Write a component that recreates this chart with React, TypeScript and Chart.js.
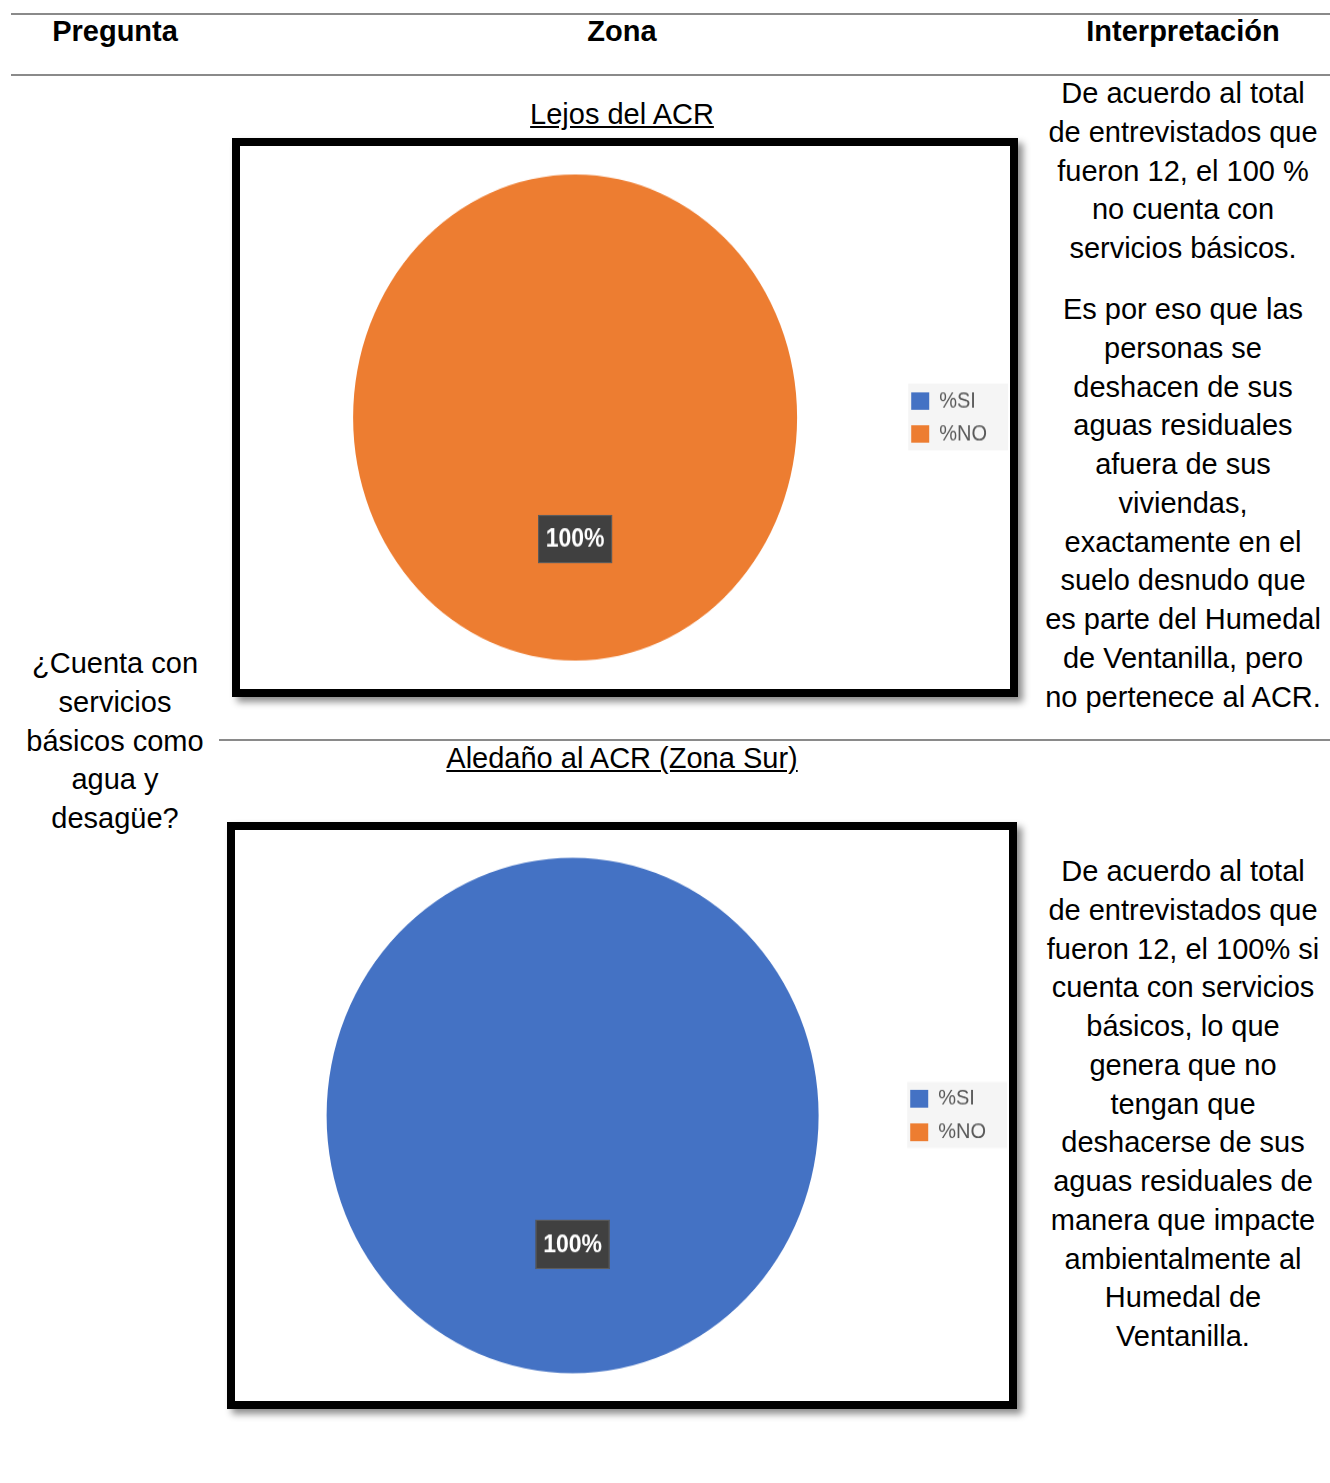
import React, { useEffect, useRef } from "react";
import { Chart, registerables } from "chart.js";

Chart.register(...registerables);

// ---- data ----
const categories = ["%SI", "%NO"];
const lejosValues = [0, 100];
const aledanoValues = [100, 0];
const sliceColors = ["#4472C4", "#ED7D31"];

const headerLabels = ["Pregunta", "Zona", "Interpretación"];
const questionLines = ["¿Cuenta con", "servicios", "básicos como", "agua y", "desagüe?"];
const lejosTitle = "Lejos del ACR";
const aledanoTitle = "Aledaño al ACR (Zona Sur)";
const lejosNoteA = [
  "De acuerdo al total",
  "de entrevistados que",
  "fueron 12, el 100 %",
  "no cuenta con",
  "servicios básicos.",
];
const lejosNoteB = [
  "Es por eso que las",
  "personas se",
  "deshacen de sus",
  "aguas residuales",
  "afuera de sus",
  "viviendas,",
  "exactamente en el",
  "suelo desnudo que",
  "es parte del Humedal",
  "de Ventanilla, pero",
  "no pertenece al ACR.",
];
const aledanoNote = [
  "De acuerdo al total",
  "de entrevistados que",
  "fueron 12, el 100% si",
  "cuenta con servicios",
  "básicos, lo que",
  "genera que no",
  "tengan que",
  "deshacerse de sus",
  "aguas residuales de",
  "manera que impacte",
  "ambientalmente al",
  "Humedal de",
  "Ventanilla.",
];

const FONT = "'Liberation Sans', Arial, sans-serif";
const LINE_H = 38.75;

// light grey panel behind the legend entries
const legendBackdrop = {
  id: "legendBackdrop",
  beforeDraw(chart: any) {
    const lg = chart.legend;
    if (!lg || !lg.legendHitBoxes || !lg.legendHitBoxes.length) return;
    const hb = lg.legendHitBoxes;
    const first = hb[0];
    const last = hb[hb.length - 1];
    const ctx = chart.ctx;
    const x0 = first.left - 3;
    const y0 = first.top + first.height / 2 - 16;
    const y1 = last.top + last.height / 2 + 15;
    ctx.save();
    ctx.fillStyle = "#f5f5f5";
    ctx.fillRect(x0, y0, chart.width - 2 - x0, y1 - y0);
    ctx.restore();
  },
};

// dark value badge at each slice's centre point
const valueBadge = {
  id: "valueBadge",
  afterDatasetsDraw(chart: any, _args: any, opts: any) {
    const meta = chart.getDatasetMeta(0);
    const values: number[] = chart.data.datasets[0].data;
    const ctx = chart.ctx;
    meta.data.forEach((arc: any, i: number) => {
      const v = values[i];
      if (!v) return;
      const { x, y } = arc.tooltipPosition(false);
      const w = opts.width;
      const h = opts.height;
      ctx.save();
      ctx.fillStyle = "#404040";
      ctx.fillRect(x - w / 2, y - h / 2, w, h);
      ctx.strokeStyle = "#5c5c5c";
      ctx.lineWidth = 1;
      ctx.strokeRect(x - w / 2 + 0.5, y - h / 2 + 0.5, w - 1, h - 1);
      ctx.fillStyle = "#ffffff";
      ctx.font = `bold 23px ${FONT}`;
      ctx.textAlign = "center";
      ctx.textBaseline = "middle";
      ctx.fillText(`${v}%`, x, y + 1);
      ctx.restore();
    });
  },
};

type PieProps = {
  values: number[];
  width: number;
  height: number;
  scaleY: number;
  radius: number;
  padLeft: number;
  padRight: number;
  legendPad: number;
  boxHeight: number;
  badgeHeight: number;
};

function PieChart(p: PieProps) {
  const ref = useRef<HTMLCanvasElement | null>(null);
  useEffect(() => {
    if (!ref.current) return;
    const chart = new Chart(ref.current, {
      type: "pie",
      data: {
        labels: categories,
        datasets: [
          {
            data: p.values,
            backgroundColor: sliceColors,
            borderWidth: 0,
            hoverOffset: 0,
            offset: 0,
            radius: p.radius,
          } as any,
        ],
      },
      options: {
        animation: false,
        responsive: true,
        maintainAspectRatio: false,
        events: [],
        layout: { padding: { left: p.padLeft, right: p.padRight, top: 0, bottom: 0 } },
        plugins: {
          tooltip: { enabled: false },
          legend: {
            position: "right",
            labels: {
              color: "#595959",
              font: { family: FONT, size: 20 },
              boxWidth: 18,
              boxHeight: p.boxHeight,
              padding: p.legendPad,
            },
          },
          valueBadge: { width: 74, height: p.badgeHeight },
        } as any,
      },
      plugins: [legendBackdrop, valueBadge],
    });
    return () => chart.destroy();
  }, []);
  return (
    <div
      style={{
        position: "absolute",
        left: 0,
        top: 0,
        width: p.width,
        height: p.height,
        transform: `scaleY(${p.scaleY})`,
        transformOrigin: "top left",
      }}
    >
      <canvas ref={ref} />
    </div>
  );
}

function Frame(props: {
  left: number;
  top: number;
  width: number;
  height: number;
  children: React.ReactNode;
}) {
  return (
    <div
      style={{
        position: "absolute",
        left: props.left,
        top: props.top,
        width: props.width,
        height: props.height,
        boxSizing: "border-box",
        border: "8px solid #000",
        background: "#fff",
        boxShadow: "5px 5px 7px rgba(0,0,0,0.45)",
      }}
    >
      <div style={{ position: "relative", width: "100%", height: "100%" }}>{props.children}</div>
    </div>
  );
}

function TextBlock(props: {
  cx: number;
  top: number;
  lines: string[];
  bold?: boolean;
  underline?: boolean;
  width?: number;
}) {
  const w = props.width ?? 320;
  return (
    <div
      style={{
        position: "absolute",
        left: props.cx - w / 2,
        top: props.top,
        width: w,
        textAlign: "center",
        fontFamily: FONT,
        fontSize: 29,
        lineHeight: `${LINE_H}px`,
        fontWeight: props.bold ? 700 : 400,
        textDecoration: props.underline ? "underline" : "none",
        color: "#000",
        whiteSpace: "nowrap",
      }}
    >
      {props.lines.map((l, i) => (
        <div key={i}>{l}</div>
      ))}
    </div>
  );
}

function Rule(props: { x0: number; x1: number; y: number }) {
  return (
    <div
      style={{
        position: "absolute",
        left: props.x0,
        top: props.y - 1,
        width: props.x1 - props.x0,
        height: 2,
        background: "#8a8a8a",
      }}
    />
  );
}

export default function App() {
  return (
    <div
      style={{
        position: "absolute",
        left: 0,
        top: 0,
        width: 1330,
        height: 1483,
        background: "#fff",
        overflow: "hidden",
      }}
    >
      <Rule x0={11} x1={1330} y={14} />
      <Rule x0={11} x1={1330} y={75} />
      <Rule x0={219} x1={1330} y={740} />

      <TextBlock cx={115} top={12} lines={[headerLabels[0]]} bold />
      <TextBlock cx={622} top={12} lines={[headerLabels[1]]} bold />
      <TextBlock cx={1183} top={12} lines={[headerLabels[2]]} bold />

      <TextBlock cx={115} top={644} lines={questionLines} width={220} />

      <TextBlock cx={622} top={95} lines={[lejosTitle]} underline />
      <TextBlock cx={622} top={739} lines={[aledanoTitle]} underline width={420} />

      <TextBlock cx={1183} top={74} lines={lejosNoteA} />
      <TextBlock cx={1183} top={290} lines={lejosNoteB} />
      <TextBlock cx={1183} top={852} lines={aledanoNote} />

      <Frame left={232} top={138} width={786} height={559}>
        <PieChart
          values={lejosValues}
          width={770}
          height={496}
          scaleY={543 / 496}
          radius={222}
          padLeft={9}
          padRight={13}
          legendPad={10}
          boxHeight={16}
          badgeHeight={44}
        />
      </Frame>

      <Frame left={227} top={822} width={790} height={587}>
        <PieChart
          values={aledanoValues}
          width={774}
          height={545}
          scaleY={571 / 545}
          radius={246}
          padLeft={12}
          padRight={13}
          legendPad={12}
          boxHeight={17}
          badgeHeight={47}
        />
      </Frame>
    </div>
  );
}
